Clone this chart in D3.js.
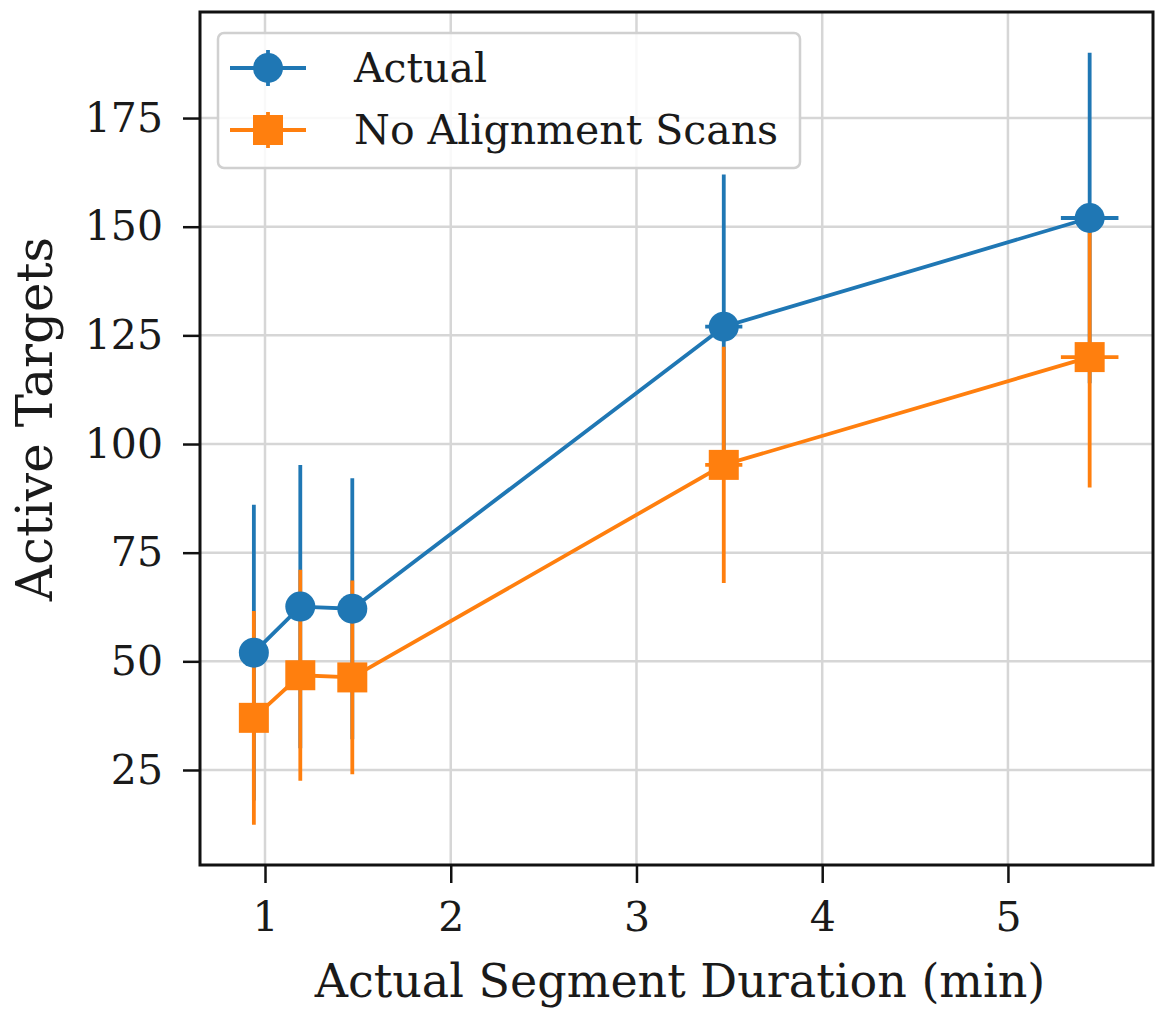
<!DOCTYPE html>
<meta charset="utf-8">
<head>
  <title>Active targets vs segment duration</title>
</head>

<style>
body {
  margin: 0;
  background: #fff;
}

svg text {
  font-family: "DejaVu Serif", serif;
  fill: #1a1a1a;
}

.tick text {
  font-size: 41px;
}

.grid line {
  stroke: #d6d6d6;
  stroke-width: 2.5px;
}

.axis path, .axis line {
  stroke: #111;
  stroke-width: 2.5px;
}

.frame {
  fill: none;
  stroke: #111;
  stroke-width: 3px;
}

.legend-box {
  fill: #fff;
  fill-opacity: 0.85;
  stroke: #d0d0d0;
  stroke-width: 2.5px;
}

.legend text {
  font-size: 41px;
}
</style>

<body>
  <svg width="1155" height="1011"></svg>

  <script src="https://cdnjs.cloudflare.com/ajax/libs/d3/7.8.5/d3.min.js"></script>

  <script>
// durations (min) and their small spread
var durations = [0.94, 1.19, 1.47, 3.47, 5.44];
var durationErr = [0.03, 0.03, 0.03, 0.1, 0.155];

// active targets with alignment scans
var actual = [52, 62.6, 62.1, 127, 152];
var actualErr = [34, 32.6, 30, 35, 38];

// active targets without alignment scans
var noAlign = [37, 46.8, 46.3, 95.2, 120];
var noAlignErr = [24.6, 24.3, 22.3, 27.2, 30];

var xTicks = [1, 2, 3, 4, 5];
var yTicks = [25, 50, 75, 100, 125, 150, 175];

var seriesNames = ['Actual', 'No Alignment Scans'];
var colors = ['#1f77b4', '#ff7f0e'];

var margin = {left: 200, top: 12, right: 2, bottom: 146};
var width = 1155 - margin.left - margin.right;
var height = 1011 - margin.top - margin.bottom;

var svg = d3.select('svg');
var g = svg.append('g')
  .attr('transform', 'translate(' + margin.left + ',' + margin.top + ')');

var x = d3.scaleLinear().domain([0.65, 5.781]).range([0, width]);
var y = d3.scaleLinear().domain([3.14, 199.4]).range([height, 0]);

// grid
var grid = g.append('g').attr('class', 'grid');

grid.selectAll('line.gx')
  .data(xTicks)
  .enter().append('line')
  .attr('class', 'gx')
  .attr('x1', function(d) {return x(d);})
  .attr('x2', function(d) {return x(d);})
  .attr('y1', 0)
  .attr('y2', height);

grid.selectAll('line.gy')
  .data(yTicks)
  .enter().append('line')
  .attr('class', 'gy')
  .attr('x1', 0)
  .attr('x2', width)
  .attr('y1', function(d) {return y(d);})
  .attr('y2', function(d) {return y(d);});

// axes
g.append('g')
  .attr('class', 'axis')
  .attr('transform', 'translate(0,' + height + ')')
  .call(d3.axisBottom(x).tickValues(xTicks).tickSize(18).tickPadding(19).tickFormat(d3.format('d')));

g.append('g')
  .attr('class', 'axis')
  .call(d3.axisLeft(y).tickValues(yTicks).tickSize(17).tickPadding(20).tickFormat(d3.format('d')));

g.selectAll('.axis .domain').remove();

g.append('rect')
  .attr('class', 'frame')
  .attr('width', width)
  .attr('height', height);

var series = [
  {values: actual, err: actualErr, color: colors[0], shape: 'circle'},
  {values: noAlign, err: noAlignErr, color: colors[1], shape: 'square'}
];

// error bars underneath all markers
series.forEach(function(s) {
  var eb = g.append('g');
  eb.selectAll('line.v')
    .data(durations)
    .enter().append('line')
    .attr('class', 'v')
    .attr('x1', function(d) {return x(d);})
    .attr('x2', function(d) {return x(d);})
    .attr('y1', function(d, i) {return y(s.values[i] - s.err[i]);})
    .attr('y2', function(d, i) {return y(s.values[i] + s.err[i]);})
    .attr('stroke', s.color)
    .attr('stroke-width', 3.8);
  eb.selectAll('line.h')
    .data(durations)
    .enter().append('line')
    .attr('class', 'h')
    .attr('x1', function(d, i) {return x(d - durationErr[i]);})
    .attr('x2', function(d, i) {return x(d + durationErr[i]);})
    .attr('y1', function(d, i) {return y(s.values[i]);})
    .attr('y2', function(d, i) {return y(s.values[i]);})
    .attr('stroke', s.color)
    .attr('stroke-width', 3.8);
});

var line = d3.line()
  .x(function(d) {return x(d[0]);})
  .y(function(d) {return y(d[1]);});

function marker(sel, shape, color) {
  if (shape === 'circle') {
    sel.append('circle').attr('r', 15).attr('fill', color);
  } else {
    sel.append('rect').attr('x', -15).attr('y', -15)
      .attr('width', 30).attr('height', 30).attr('fill', color);
  }
}

series.forEach(function(s) {
  g.append('path')
    .datum(durations.map(function(d, i) {return [d, s.values[i]];}))
    .attr('d', line)
    .attr('fill', 'none')
    .attr('stroke', s.color)
    .attr('stroke-width', 3.8);

  g.append('g').selectAll('g')
    .data(durations)
    .enter().append('g')
    .attr('transform', function(d, i) {return 'translate(' + x(d) + ',' + y(s.values[i]) + ')';})
    .each(function() {marker(d3.select(this), s.shape, s.color);});
});

// legend
var legend = g.append('g').attr('class', 'legend')
  .attr('transform', 'translate(18,21)');

legend.append('rect')
  .attr('class', 'legend-box')
  .attr('width', 582)
  .attr('height', 135)
  .attr('rx', 6);

series.forEach(function(s, i) {
  var row = legend.append('g')
    .attr('transform', 'translate(0,' + (35 + i * 62) + ')');
  row.append('line')
    .attr('x1', 12).attr('x2', 88)
    .attr('stroke', s.color).attr('stroke-width', 3.8);
  row.append('line')
    .attr('x1', 50).attr('x2', 50).attr('y1', -18).attr('y2', 18)
    .attr('stroke', s.color).attr('stroke-width', 3.8);
  var m = row.append('g').attr('transform', 'translate(50,0)');
  marker(m, s.shape, s.color);
  row.append('text')
    .attr('x', 136)
    .attr('dy', '0.35em')
    .text(seriesNames[i]);
});

// axis labels
svg.append('text')
  .attr('x', 680)
  .attr('y', 997)
  .attr('text-anchor', 'middle')
  .style('font-size', '46px')
  .text('Actual Segment Duration (min)');

svg.append('text')
  .attr('transform', 'translate(52,419) rotate(-90)')
  .attr('text-anchor', 'middle')
  .style('font-size', '50px')
  .text('Active Targets');
  </script>
</body>
</html>
